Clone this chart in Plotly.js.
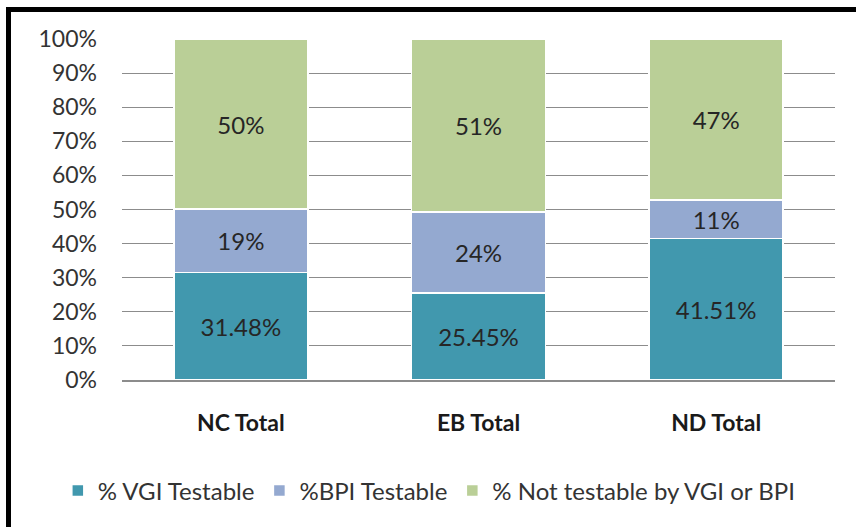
<!DOCTYPE html>
<html>
<head>
<meta charset="utf-8">
<script src="https://cdn.plot.ly/plotly-3.0.1.min.js"></script>
<style>
  html, body { margin: 0; padding: 0; background: #fff; }
  #wrap { position: relative; width: 856px; height: 527px; overflow: hidden; }
  #chart { position: absolute; left: 0; top: 0; width: 856px; height: 527px; }
  #frame { position: absolute; left: 6px; top: 7px; width: 900px; height: 600px;
           border-left: 5px solid #000; border-top: 5px solid #000; pointer-events: none; }
</style>
</head>
<body>
<div id="wrap">
  <div id="chart"></div>
  <div id="frame"></div>
</div>
<script>
const categories = ["NC Total", "EB Total", "ND Total"];
const seriesNames = ["% VGI Testable", "%BPI Testable", "% Not testable by VGI or BPI"];
const vgiValues = [31.48, 25.45, 41.51];
const bpiValues = [18.6, 23.75, 11.3];
const notValues = [49.92, 50.8, 47.19];
const vgiLabels = ["31.48%", "25.45%", "41.51%"];
const bpiLabels = ["19%", "24%", "11%"];
const notLabels = ["50%", "51%", "47%"];
const colors = ["#4198AE", "#94A9D0", "#BACF97"];

const FONT = "Lato, 'Open Sans', sans-serif";

function mk(name, y, labels, color) {
  return {
    type: "bar",
    name: name,
    x: categories,
    y: y,
    text: labels,
    texttemplate: "%{text}",
    textposition: "inside",
    insidetextanchor: "middle",
    textangle: 0,
    constraintext: "none",
    textfont: { family: FONT, size: 24, color: "#262626" },
    marker: { color: color, line: { color: "#ffffff", width: 1.5 } },
    hoverinfo: "skip"
  };
}

const data = [
  mk(seriesNames[0], vgiValues, vgiLabels, colors[0]),
  mk(seriesNames[1], bpiValues, bpiLabels, colors[1]),
  mk(seriesNames[2], notValues, notLabels, colors[2])
];

const layout = {
  width: 856,
  height: 527,
  margin: { l: 122, r: 21, t: 39, b: 147, pad: 0 },
  paper_bgcolor: "#ffffff",
  plot_bgcolor: "#ffffff",
  barmode: "stack",
  bargap: 0.436,
  showlegend: true,
  legend: {
    orientation: "h",
    x: -0.09, xanchor: "left",
    y: -0.325, yanchor: "middle",
    font: { family: FONT, size: 24, color: "#333333" },
    traceorder: "normal",
    bgcolor: "rgba(0,0,0,0)"
  },
  xaxis: {
    type: "category",
    tickfont: { family: FONT, size: 23, color: "#1a1a1a", weight: "bold" },
    ticks: "",
    ticklabelstandoff: 22,
    showline: true,
    linecolor: "#8c8c8c",
    linewidth: 1.5,
    showgrid: false,
    zeroline: false,
    fixedrange: true
  },
  yaxis: {
    range: [0, 100],
    dtick: 10,
    tick0: 0,
    ticksuffix: "%",
    tickfont: { family: FONT, size: 23, color: "#333333" },
    ticks: "",
    ticklabelstandoff: 24,
    showgrid: true,
    gridcolor: "#8c8c8c",
    gridwidth: 1,
    zeroline: false,
    showline: false,
    fixedrange: true
  }
};

Plotly.newPlot("chart", data, layout, { displayModeBar: false, staticPlot: true });
</script>
</body>
</html>
